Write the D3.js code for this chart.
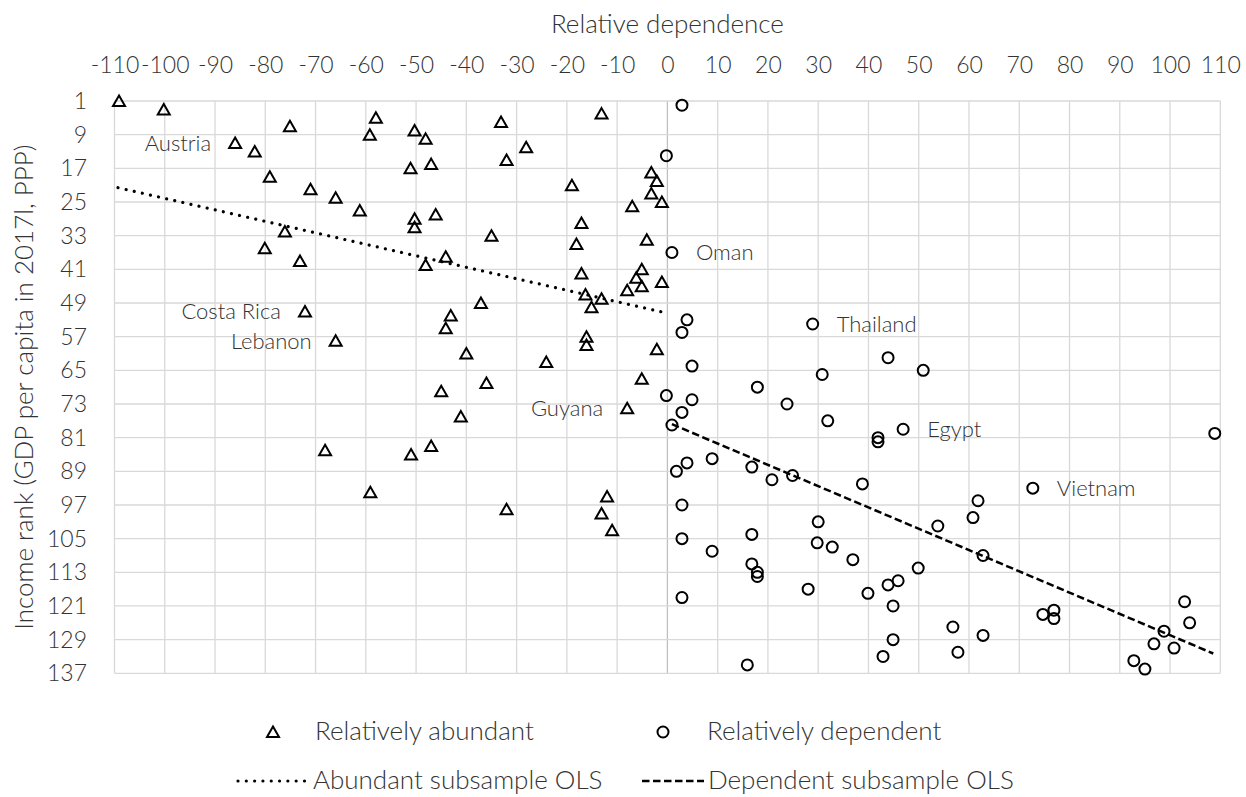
<!DOCTYPE html>
<html>
<head>
<meta charset="utf-8">
<script src="https://cdn.jsdelivr.net/npm/d3@7"></script>
<style>
  body { margin: 0; background: #ffffff; }
  text { font-family: Lato, "Open Sans", sans-serif; font-weight: 300; fill: #333333; }
</style>
</head>
<body>
<svg id="chart" width="1246" height="797"></svg>
<script>
// Axis ticks
const xTicks = d3.range(-110, 111, 10);
const rankTicks = d3.range(1, 138, 8);

// Relatively abundant economies: relative dependence and income rank
const abundantX = [-109.1, -100.2, -86.0, -82.1, -75.1, -58.0, -59.2, -50.3, -48.1, -79.1,
  -71.0, -66.0, -61.2, -51.1, -47.0, -50.3, -50.3, -46.1, -76.1, -80.1,
  -73.1, -33.1, -28.1, -32.0, -13.1, -19.0, -3.2, -2.1, -3.2, -1.1,
  -7.0, -17.1, -35.0, -18.1, -4.1, -44.1, -48.1, -17.1, -5.1, -6.2,
  -5.1, -1.1, -8.0, -16.3, -13.1, -15.1, -37.1, -43.1, -72.1, -44.1,
  -66.0, -16.1, -16.1, -2.1, -40.0, -24.1, -5.1, -36.0, -45.0, -41.1,
  -8.0, -51.0, -47.0, -68.1, -59.1, -12.0, -13.1, -11.0, -32.0];
const abundantRank = [1, 3, 11, 13, 7, 5, 9, 8, 10, 19,
  22, 24, 27, 17, 16, 29, 31, 28, 32, 36,
  39, 6, 12, 15, 4, 21, 18, 20, 23, 25,
  26, 30, 33, 35, 34, 38, 40, 42, 41, 43,
  45, 44, 46, 47, 48, 50, 49, 52, 51, 55,
  58, 57, 59, 60, 61, 63, 67, 68, 70, 76,
  74, 85, 83, 84, 94, 95, 99, 103, 98];

// Relatively dependent economies: relative dependence and income rank
const dependentX = [2.9, -0.2, 0.9, 3.9, 2.9, 28.9, 4.9, 30.8, 43.9, 50.9,
  17.9, -0.2, 4.9, 23.8, 2.9, 31.9, 0.9, 46.9, 41.9, 41.9,
  108.9, 8.9, 3.9, 16.8, 1.8, 24.9, 20.8, 38.8, 72.7, 61.8,
  2.9, 60.8, 30.0, 53.8, 16.8, 2.9, 29.8, 32.8, 8.9, 62.8,
  36.9, 16.8, 49.9, 17.9, 17.9, 45.9, 43.9, 28.0, 39.9, 2.9,
  102.9, 44.9, 76.9, 74.7, 76.9, 103.9, 56.8, 98.8, 62.8, 44.9,
  96.8, 100.8, 57.8, 42.9, 92.8, 15.9, 95.0];
const dependentRank = [2, 14, 37, 53, 56, 54, 64, 66, 62, 65,
  69, 71, 72, 73, 75, 77, 78, 79, 81, 82,
  80, 86, 87, 88, 89, 90, 91, 92, 93, 96,
  97, 100, 101, 102, 104, 105, 106, 107, 108, 109,
  110, 111, 112, 113, 114, 115, 116, 117, 118, 119,
  120, 121, 122, 123, 124, 125, 126, 127, 128, 129,
  130, 131, 132, 133, 134, 135, 136];

// Fitted OLS lines, end points (relative dependence, income rank)
const abundantFitX = [-109.3, -1.2];
const abundantFitRank = [21.6, 51.1];
const dependentFitX = [0.9, 108.6];
const dependentFitRank = [77.8, 132.3];

// Named economies: series, index in that series, side of the label
const labelNames = ["Austria", "Costa Rica", "Lebanon", "Guyana", "Oman", "Thailand", "Egypt", "Vietnam"];
const labelSeries = ["abundant", "abundant", "abundant", "abundant", "dependent", "dependent", "dependent", "dependent"];
const labelIndex = [2, 48, 50, 60, 2, 5, 17, 28];
const labelSide = ["left", "left", "left", "left", "right", "right", "right", "right"];

const svg = d3.select("#chart");
const plot = { left: 114.5, right: 1220.3, top: 101, bottom: 673.3 };
const tickFS = 23;     // tick labels
const titleFS = 26;    // axis titles and legend
const labelFS = 22;    // country labels

const x = d3.scaleLinear().domain([-110, 110]).range([plot.left, plot.right]);
const y = d3.scaleLinear().domain([1, 137]).range([plot.top, plot.bottom]);

// Grid
const grid = svg.append("g");
grid.selectAll("line.v").data(xTicks).join("line")
  .attr("x1", d => x(d)).attr("x2", d => x(d))
  .attr("y1", plot.top).attr("y2", plot.bottom)
  .attr("stroke", d => d === 0 ? "#bfbfbf" : "#d9d9d9")
  .attr("stroke-width", 1.3);
grid.selectAll("line.h").data(rankTicks).join("line")
  .attr("x1", plot.left).attr("x2", plot.right)
  .attr("y1", d => y(d)).attr("y2", d => y(d))
  .attr("stroke", "#d9d9d9")
  .attr("stroke-width", 1.3);

// Axes
const xAxis = svg.append("g")
  .attr("transform", `translate(0,${plot.top})`)
  .call(d3.axisTop(x).tickValues(xTicks).tickSize(0).tickPadding(28).tickFormat(d3.format("d")));
const yAxis = svg.append("g")
  .attr("transform", `translate(${plot.left},0)`)
  .call(d3.axisLeft(y).tickValues(rankTicks).tickSize(0).tickPadding(27.5).tickFormat(d3.format("d")));
[xAxis, yAxis].forEach(a => {
  a.select(".domain").remove();
  a.selectAll("text").attr("font-family", null).attr("font-size", null)
    .style("font-size", tickFS + "px").attr("fill", "#333333");
});
xAxis.selectAll("text").text(d => d < 0 ? "-" + Math.abs(d) : d);

// Axis titles
svg.append("text")
  .attr("x", (plot.left + plot.right) / 2).attr("y", 33)
  .attr("text-anchor", "middle").style("font-size", titleFS + "px")
  .text("Relative dependence");
svg.append("text")
  .attr("transform", `translate(33,${(plot.top + plot.bottom) / 2}) rotate(-90)`)
  .attr("text-anchor", "middle").style("font-size", titleFS + "px")
  .text("Income rank (GDP per capita in 2017l, PPP)");

// Marker shapes
const triPath = "M0,-5.5L6,5L-6,5Z";
const circleR = 5.5;

// OLS lines
const line = d3.line().x(d => x(d[0])).y(d => y(d[1]));
svg.append("path")
  .datum(d3.zip(abundantFitX, abundantFitRank))
  .attr("d", line).attr("fill", "none").attr("stroke", "#000")
  .attr("stroke-width", 3.2).attr("stroke-linecap", "round")
  .attr("stroke-dasharray", "0.01,8.3");
svg.append("path")
  .datum(d3.zip(dependentFitX, dependentFitRank))
  .attr("d", line).attr("fill", "none").attr("stroke", "#000")
  .attr("stroke-width", 2.5)
  .attr("stroke-dasharray", "7.5,3.5");

// Points
const abundant = d3.zip(abundantX, abundantRank);
const dependent = d3.zip(dependentX, dependentRank);
svg.append("g").selectAll("path").data(abundant).join("path")
  .attr("transform", d => `translate(${x(d[0])},${y(d[1])})`)
  .attr("d", triPath).attr("fill", "none").attr("stroke", "#000").attr("stroke-width", 2);
svg.append("g").selectAll("circle").data(dependent).join("circle")
  .attr("cx", d => x(d[0])).attr("cy", d => y(d[1])).attr("r", circleR)
  .attr("fill", "none").attr("stroke", "#000").attr("stroke-width", 2);

// Country labels
const series = { abundant, dependent };
svg.append("g").selectAll("text").data(labelNames).join("text")
  .each(function (name, i) {
    const p = series[labelSeries[i]][labelIndex[i]];
    const left = labelSide[i] === "left";
    d3.select(this)
      .attr("x", x(p[0]) + (left ? -24 : 24))
      .attr("y", y(p[1]))
      .attr("dy", "0.35em")
      .attr("text-anchor", left ? "end" : "start")
      .style("font-size", labelFS + "px")
      .text(name);
  });

// Legend
const lg = svg.append("g");
lg.append("path").attr("transform", "translate(273,732)").attr("d", triPath)
  .attr("fill", "none").attr("stroke", "#000").attr("stroke-width", 2);
lg.append("text").attr("x", 315).attr("y", 731).attr("dy", "0.35em")
  .style("font-size", titleFS + "px").text("Relatively abundant");
lg.append("circle").attr("cx", 663).attr("cy", 732).attr("r", circleR)
  .attr("fill", "none").attr("stroke", "#000").attr("stroke-width", 2);
lg.append("text").attr("x", 707).attr("y", 731).attr("dy", "0.35em")
  .style("font-size", titleFS + "px").text("Relatively dependent");
lg.append("line").attr("x1", 238).attr("x2", 305).attr("y1", 781).attr("y2", 781)
  .attr("stroke", "#000").attr("stroke-width", 3.2).attr("stroke-linecap", "round")
  .attr("stroke-dasharray", "0.01,8.3");
lg.append("text").attr("x", 313).attr("y", 780).attr("dy", "0.35em")
  .style("font-size", titleFS + "px").text("Abundant subsample OLS");
lg.append("line").attr("x1", 642).attr("x2", 704).attr("y1", 781).attr("y2", 781)
  .attr("stroke", "#000").attr("stroke-width", 2.5)
  .attr("stroke-dasharray", "7.5,3.5");
lg.append("text").attr("x", 708).attr("y", 780).attr("dy", "0.35em")
  .style("font-size", titleFS + "px").text("Dependent subsample OLS");
</script>
</body>
</html>
